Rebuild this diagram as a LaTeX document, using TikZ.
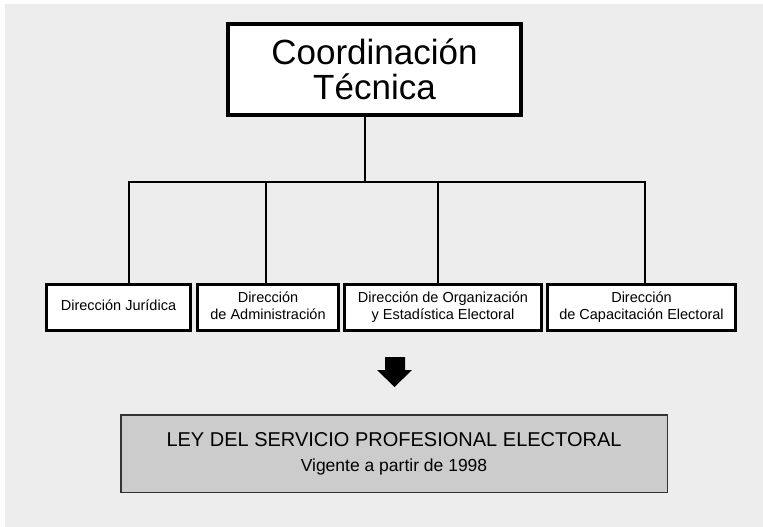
\documentclass[tikz,border=0pt]{standalone}
\usepackage{fontspec}
\setmainfont{Liberation Sans}
\definecolor{fondo}{HTML}{EDEDED}
\definecolor{gris}{HTML}{CCCCCC}
\definecolor{borde}{HTML}{333333}
\tikzset{
    caja/.style={draw, line width=3pt, fill=white, align=center, inner sep=0pt,
        minimum height=46pt, font=\fontsize{14.5}{16.5}\selectfont},
    linea/.style={line width=2pt},
}
\begin{document}
\begin{tikzpicture}[x=1pt,y=-1pt]
    % Fondo
    \useasboundingbox (0,0) rectangle (763,527);
    \fill[fondo] (5,4) rectangle (763,527);

    % Coordinación Técnica
    \node[draw, line width=4pt, fill=white, minimum width=293pt, minimum height=91pt,
        align=center, font=\fontsize{35}{35}\selectfont] (coord) at (374.5,69.5) {Coordinación\\Técnica};

    % Direcciones
    \node[caja, minimum width=144pt] (jur) at (118.5,307.5) {Dirección Jurídica\strut};
    \node[caja, minimum width=141pt] (adm) at (268,307.5) {Dirección\strut\\de Administración\strut};
    \node[caja, minimum width=197pt] (org) at (443,307.5) {Dirección de Organización\strut\\y Estadística Electoral\strut};
    \node[caja, minimum width=188pt] (cap) at (641.5,307.5) {Dirección\strut\\de Capacitación Electoral\strut};

    % Líneas de mando
    \coordinate (busL) at (129,182);
    \coordinate (busR) at (645,182);
    \draw[linea] ([xshift=-9.5pt]coord.south) -- ([xshift=-9.5pt]coord.south |- busL);
    \draw[linea] (jur.north -| busL) -- (busL) -- (busR) -- (cap.north -| busR);
    \draw[linea] ([xshift=-2pt]adm.north) -- ([xshift=-2pt]adm.north |- busL);
    \draw[linea] ([xshift=-5pt]org.north) -- ([xshift=-5pt]org.north |- busL);

    % Flecha
    \fill (385,357) -- (405,357) -- (405,370) -- (412,370) -- (394.5,387) -- (377,370) -- (385,370) -- cycle;

    % Ley
    \node[draw=borde, line width=1.5pt, fill=gris, minimum width=546.5pt, minimum height=77.5pt,
        align=center, font=\fontsize{17.5}{25}\selectfont] (ley) at (394,453.5)
        {{\fontsize{20}{25}\selectfont LEY DEL SERVICIO PROFESIONAL ELECTORAL}\\Vigente a partir de 1998};
\end{tikzpicture}
\end{document}
